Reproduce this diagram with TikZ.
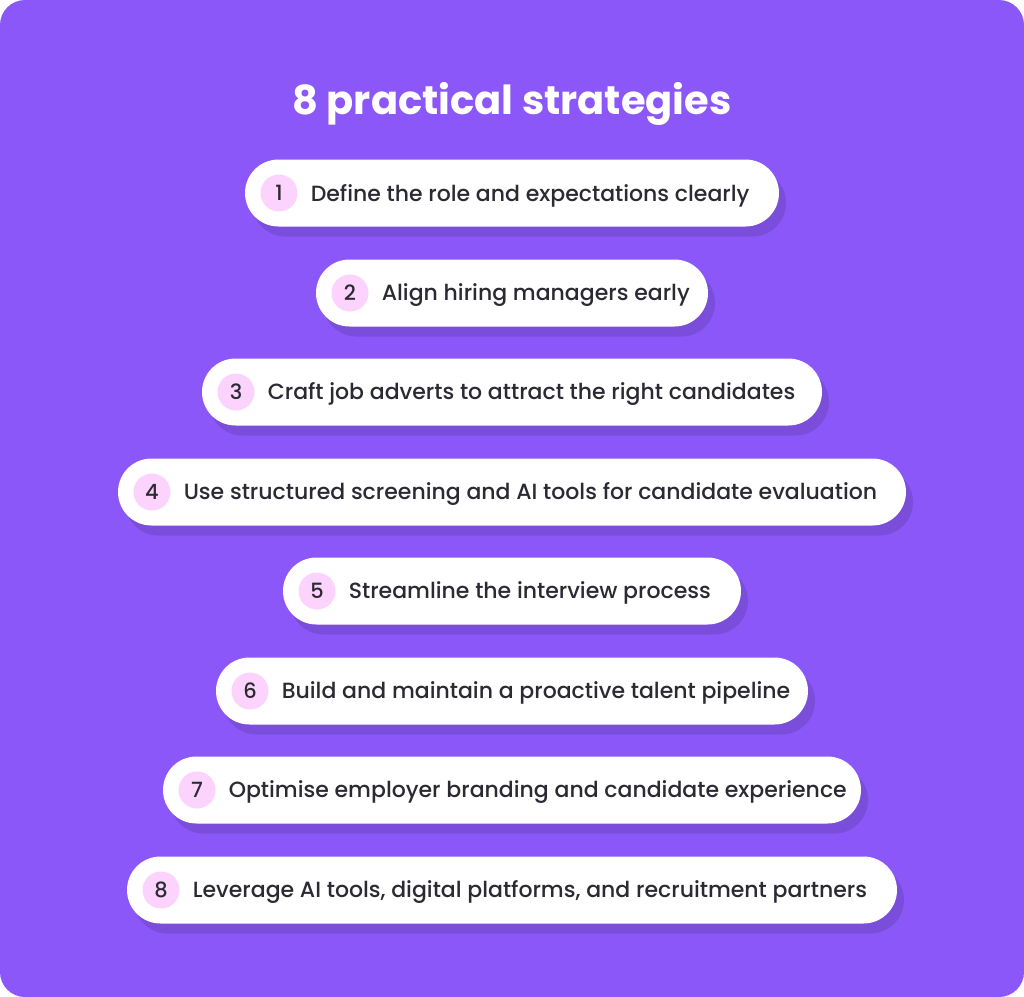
\documentclass[tikz,border=0pt]{standalone}
\usepackage{fontspec}
\setmainfont{Poppins}
\newfontfamily\itemfont{Poppins Medium}
\usetikzlibrary{positioning,shadows}
\definecolor{bgpurple}{HTML}{8B57F8}
\definecolor{pillshade}{HTML}{7A4EDB}
\definecolor{numpink}{HTML}{FBD3FC}
\definecolor{inkdark}{HTML}{2B2A33}

\tikzset{
  pill/.style={fill=white, rounded corners=16.75pt, minimum height=33.5pt, inner sep=0pt,
    drop shadow={shadow xshift=3.5pt, shadow yshift=-5pt, fill=pillshade, opacity=1}},
  numdot/.style={circle, fill=numpink, minimum size=18.5pt, inner sep=0pt, text=inkdark,
    font=\itemfont\fontsize{10.5}{12}\selectfont},
  itemtext/.style={inner sep=0pt, text=inkdark, yshift=-1.2pt,
    font=\itemfont\fontsize{11}{13}\selectfont},
  headline/.style={text=white, font=\fontsize{20}{24}\selectfont\bfseries}
}

\begin{document}
\begin{tikzpicture}[x=0.5pt,y=-0.5pt]
    % card
    \fill[white] (0,0) rectangle (1024,997);
    \fill[bgpurple, rounded corners=12.5pt] (0,0) rectangle (1024,997);
    \node[headline] (title) at (512,104) {8 practical strategies};

    % pills
    \node[pill, minimum width=267pt] (p1) at (512,193) {};
    \node[pill, minimum width=196pt] (p2) at (512,293) {};
    \node[pill, minimum width=310pt] (p3) at (512,392) {};
    \node[pill, minimum width=394pt] (p4) at (512,492) {};
    \node[pill, minimum width=229pt] (p5) at (512,591) {};
    \node[pill, minimum width=296pt] (p6) at (512,691) {};
    \node[pill, minimum width=349pt] (p7) at (512,790) {};
    \node[pill, minimum width=385pt] (p8) at (512,890) {};

    % numbers
    \node[numdot, right=7.75pt of p1.west] (n1) {1};
    \node[numdot, right=7.75pt of p2.west] (n2) {2};
    \node[numdot, right=7.75pt of p3.west] (n3) {3};
    \node[numdot, right=7.75pt of p4.west] (n4) {4};
    \node[numdot, right=7.75pt of p5.west] (n5) {5};
    \node[numdot, right=7.75pt of p6.west] (n6) {6};
    \node[numdot, right=7.75pt of p7.west] (n7) {7};
    \node[numdot, right=7.75pt of p8.west] (n8) {8};

    % labels
    \node[itemtext, right=6.25pt of n1] (t1) {Define the role and expectations clearly};
    \node[itemtext, right=6.25pt of n2] (t2) {Align hiring managers early};
    \node[itemtext, right=6.25pt of n3] (t3) {Craft job adverts to attract the right candidates};
    \node[itemtext, right=6.25pt of n4] (t4) {Use structured screening and AI tools for candidate evaluation};
    \node[itemtext, right=6.25pt of n5] (t5) {Streamline the interview process};
    \node[itemtext, right=6.25pt of n6] (t6) {Build and maintain a proactive talent pipeline};
    \node[itemtext, right=6.25pt of n7] (t7) {Optimise employer branding and candidate experience};
    \node[itemtext, right=6.25pt of n8] (t8) {Leverage AI tools, digital platforms, and recruitment partners};
\end{tikzpicture}
\end{document}
